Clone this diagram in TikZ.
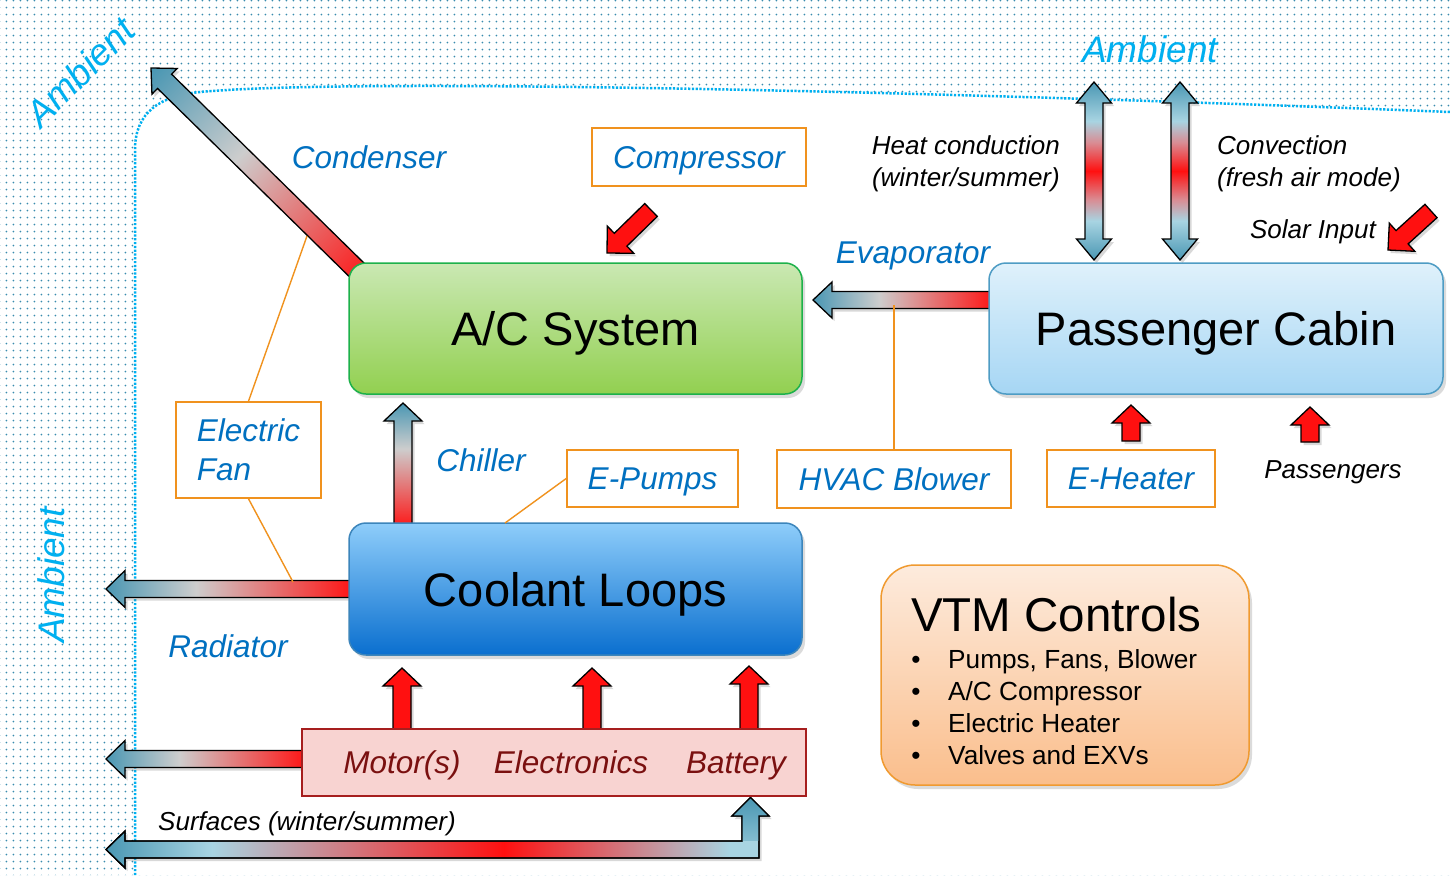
\documentclass[tikz,border=0pt]{standalone}
\usepackage{fontspec}
\setmainfont{Liberation Sans}
\usetikzlibrary{calc,patterns.meta,shadows}
\definecolor{amb}{HTML}{00B0F0}
\definecolor{dotc}{HTML}{3A8CAE}
\definecolor{lblue}{HTML}{0070C0}
\definecolor{orng}{HTML}{F0921E}
\definecolor{tealc}{HTML}{4A97B3}
\definecolor{grayc}{HTML}{CDCDCD}
\definecolor{hotred}{HTML}{FF1010}
\definecolor{lightb}{HTML}{A8D4E2}
\definecolor{pinkc}{HTML}{D98C93}
\definecolor{darkred}{HTML}{7A1010}
\definecolor{acg}{HTML}{1DB14B}
\definecolor{actop}{HTML}{CAE8B3}
\definecolor{acbot}{HTML}{92D050}
\definecolor{cabd}{HTML}{4E9CC4}
\definecolor{cabtop}{HTML}{DFF1FB}
\definecolor{cabbot}{HTML}{A6D6F4}
\definecolor{cold}{HTML}{3C85BB}
\definecolor{coltop}{HTML}{8ECDFA}
\definecolor{colbot}{HTML}{0A6FCF}
\definecolor{vtmd}{HTML}{F09A30}
\definecolor{vtmtop}{HTML}{FDEBDD}
\definecolor{vtmbot}{HTML}{FABE8C}
\definecolor{heatb}{HTML}{A61E1E}
\definecolor{heatf}{HTML}{F8D3D1}
\pgfdeclarehorizontalshading{heat}{100bp}{color(0bp)=(hotred); color(25bp)=(hotred); color(57bp)=(grayc); color(75bp)=(tealc); color(100bp)=(tealc)}
\pgfdeclarehorizontalshading{heatdiag}{100bp}{color(0bp)=(hotred); color(15bp)=(hotred); color(57bp)=(grayc); color(85bp)=(tealc); color(100bp)=(tealc)}
\pgfdeclareverticalshading{dbl}{100bp}{color(0bp)=(tealc); color(25bp)=(tealc); color(36bp)=(lightb); color(42bp)=(pinkc); color(50bp)=(hotred); color(58bp)=(pinkc); color(64bp)=(lightb); color(75bp)=(tealc); color(100bp)=(tealc)}
\pgfdeclarehorizontalshading{surf}{100bp}{color(0bp)=(tealc); color(25bp)=(tealc); color(33bp)=(lightb); color(55bp)=(hotred); color(72bp)=(lightb); color(100bp)=(lightb)}
\newcommand\lblfont{\fontsize{31.5}{39}\selectfont\itshape}
\newcommand\notefont{\fontsize{26}{32}\selectfont\itshape}
\newcommand\vtmfont{\fontsize{26.2}{32}\selectfont}
% [style]{base}{tip}{half shaft}{half head}{head length}
\newcommand\fatarrow[6][]{%
  \coordinate (fac) at ($(#3)!#6!(#2)$);
  \path[#1] ($(#2)!#4!90:(#3)$) -- ($(fac)!#4!90:(#3)$) -- ($(fac)!#5!90:(#3)$) -- (#3)
    -- ($(fac)!#5!-90:(#3)$) -- ($(fac)!#4!-90:(#3)$) -- ($(#2)!#4!-90:(#3)$) -- cycle;}
% [style]{tip1}{tip2}{half shaft}{half head}{head length}
\newcommand\dblarrow[6][]{%
  \coordinate (dac) at ($(#2)!#6!(#3)$);
  \coordinate (dad) at ($(#3)!#6!(#2)$);
  \path[#1] (#2) -- ($(dac)!#5!90:(#3)$) -- ($(dac)!#4!90:(#3)$) -- ($(dad)!#4!-90:(#2)$)
    -- ($(dad)!#5!-90:(#2)$) -- (#3) -- ($(dad)!#5!90:(#2)$) -- ($(dad)!#4!90:(#2)$)
    -- ($(dac)!#4!-90:(#3)$) -- ($(dac)!#5!-90:(#3)$) -- cycle;}
\newcommand\surfpath[1]{\path[#1] (surfT) -- (125,831) -- (125,841) -- (742,841) -- (742,816) -- (732,816)
  -- (surfU) -- (769,816) -- (759,816) -- (759,858) -- (125,858) -- (125,868) -- cycle;}
\begin{document}
\begin{tikzpicture}[x=1pt,y=-1pt,
  mainbox/.style={rounded corners=17pt, line width=1.5pt, inner sep=0pt, text height=34pt, text depth=0pt,
    font=\fontsize{47}{56}\selectfont, drop shadow={opacity=0.28, shadow xshift=3pt, shadow yshift=-4pt}},
  lblframe/.style={draw=orng, fill=white, line width=1.6pt, inner sep=0pt, text=lblue, font=\lblfont},
  lblbox/.style={lblframe, text height=22.5pt, text depth=0pt},
  lbl/.style={text=lblue, font=\lblfont, inner sep=0pt, anchor=base},
  note/.style={font=\notefont, inner sep=0pt},
  heattxt/.style={text=darkred, font=\lblfont, inner sep=0pt, anchor=base},
  ambl/.style={text=amb, font=\fontsize{37}{44}\selectfont\itshape, inner sep=0pt, text height=26.5pt, text depth=0pt},
  fat/.style={draw=black, line width=1.3pt, line join=miter,
    drop shadow={opacity=0.3, shadow xshift=2.5pt, shadow yshift=-3pt}},
  redfat/.style={fat, fill=hotred},
  heatfat/.style={fat, shade, shading=heat, shading angle=#1},
  orline/.style={draw=orng, line width=1.4pt},
  vtmline/.style={font=\vtmfont, inner sep=0pt, anchor=base west},
  bullet/.style={font=\vtmfont, inner sep=0pt, anchor=base}
]
\useasboundingbox (0,0) rectangle (1450,875);
\fill[white] (0,0) rectangle (1450,875);
% ambient region
\fill[pattern={Dots[angle=0,distance=7.4pt,radius=1.05pt]}, pattern color=dotc, even odd rule]
  (0,0) rectangle (1450,875)
  (135,875) -- (135,150) .. controls (135,112) and (160,96) .. (200,92)
  .. controls (350,78) and (900,90) .. (1450,112) -- (1450,875) -- cycle;
\draw[amb, line width=2.5pt, dash pattern=on 2.2pt off 1.6pt]
  (135,875) -- (135,150) .. controls (135,112) and (160,96) .. (200,92)
  .. controls (350,78) and (900,90) .. (1450,112);
\node[ambl] (amb1) at (1150,49) {Ambient};
\node[ambl, rotate=45] (amb2) at (80,72) {Ambient};
\node[ambl, rotate=90] (amb3) at (51,575) {Ambient};

% arrow end points
\coordinate (condB) at (366,279); \coordinate (condT) at (151,68);
\coordinate (compB) at (651,210); \coordinate (compT) at (607,253);
\coordinate (solB) at (1431,211); \coordinate (solT) at (1388,250);
\coordinate (evapB) at (996,300); \coordinate (evapT) at (813,300);
\coordinate (chilB) at (403,530); \coordinate (chilT) at (403,403);
\coordinate (radB) at (356,589); \coordinate (radT) at (106,589);
\coordinate (motB) at (309,759); \coordinate (motT) at (106,759);
\coordinate (u1B) at (402,733); \coordinate (u1T) at (402,668);
\coordinate (u2B) at (592,733); \coordinate (u2T) at (592,668);
\coordinate (u3B) at (749,733); \coordinate (u3T) at (749,666);
\coordinate (ehB) at (1131,441); \coordinate (ehT) at (1131,405);
\coordinate (paB) at (1310,442); \coordinate (paT) at (1310,407);
\coordinate (hc1) at (1094,82); \coordinate (hc2) at (1094,260);
\coordinate (cv1) at (1180,82); \coordinate (cv2) at (1180,260);
\coordinate (surfT) at (106,849.5); \coordinate (surfU) at (750.5,797.5);

% fat arrows
\fatarrow[fat, shade, shading=heatdiag, shading angle=135.5]{condB}{condT}{10pt}{18pt}{19pt}
\fatarrow[redfat]{compB}{compT}{9pt}{19pt}{19pt}
\fatarrow[redfat]{solB}{solT}{9pt}{19pt}{19pt}
\fatarrow[heatfat=180]{evapB}{evapT}{8.5pt}{18pt}{19pt}
\fatarrow[heatfat=90]{chilB}{chilT}{9pt}{19pt}{18pt}
\fatarrow[heatfat=180]{radB}{radT}{8.5pt}{18.5pt}{19pt}
\fatarrow[heatfat=180]{motB}{motT}{8.5pt}{18.5pt}{19pt}
\fatarrow[redfat]{u1B}{u1T}{9pt}{19pt}{18pt}
\fatarrow[redfat]{u2B}{u2T}{9pt}{19pt}{18pt}
\fatarrow[redfat]{u3B}{u3T}{9pt}{19pt}{18pt}
\fatarrow[redfat]{ehB}{ehT}{9pt}{19pt}{18pt}
\fatarrow[redfat]{paB}{paT}{9pt}{19pt}{18pt}
\dblarrow[fat, shade, shading=dbl]{hc1}{hc2}{9pt}{17.5pt}{21pt}
\dblarrow[fat, shade, shading=dbl]{cv1}{cv2}{9pt}{17.5pt}{21pt}
\surfpath{fat, shade, shading=surf}
\begin{scope}
  \clip (725,790) rectangle (775,840.4);
  \surfpath{top color=tealc, bottom color=lightb}
\end{scope}
\surfpath{draw=black, line width=1.3pt, line join=miter}

% main boxes
\node[mainbox, draw=acg, top color=actop, bottom color=acbot, minimum width=453pt, minimum height=131pt] (ac) at (575.5,328.5) {A/C System};
\node[mainbox, draw=cabd, top color=cabtop, bottom color=cabbot, minimum width=454pt, minimum height=131pt] (cabin) at (1216,328.5) {Passenger Cabin};
\node[mainbox, draw=cold, top color=coltop, bottom color=colbot, minimum width=453pt, minimum height=132pt] (cool) at (575.5,589) {Coolant Loops};
\node[mainbox, rounded corners=34pt, draw=vtmd, top color=vtmtop, bottom color=vtmbot, minimum width=368pt, minimum height=220pt] (vtm) at (1065,675) {};
\node[draw=heatb, fill=heatf, line width=1.6pt, minimum width=504pt, minimum height=67pt, inner sep=0pt] (heat) at (554,762.5) {};

% heat source texts
\node[heattxt] (motor) at (402,773) {Motor(s)};
\node[heattxt] (elec) at (571,773) {Electronics};
\node[heattxt] (batt) at (736,773) {Battery};

% VTM texts
\node[inner sep=0pt, anchor=base west, font=\fontsize{47.5}{56}\selectfont] (vtmt) at (911,631) {VTM Controls};
\node[bullet] (b1) at (916,668.5) {•}; \node[vtmline] (i1) at (948,668.5) {Pumps, Fans, Blower};
\node[bullet] (b2) at (916,700.5) {•}; \node[vtmline] (i2) at (948,700.5) {A/C Compressor};
\node[bullet] (b3) at (916,732.5) {•}; \node[vtmline] (i3) at (948,732.5) {Electric Heater};
\node[bullet] (b4) at (916,764.5) {•}; \node[vtmline] (i4) at (948,764.5) {Valves and EXVs};

% component label boxes
\node[lblbox, minimum width=214pt, minimum height=58pt] (comp) at (699,157) {Compressor};
\node[lblframe, minimum width=145pt, minimum height=96pt, align=left] (fan) at (248.5,450) {Electric\\Fan};
\node[lblbox, minimum width=171pt, minimum height=57pt] (epumps) at (652.5,478.5) {E-Pumps};
\node[lblbox, minimum width=234pt, minimum height=58pt] (hvac) at (894,479) {HVAC Blower};
\node[lblbox, minimum width=168pt, minimum height=57pt] (eheat) at (1131,478.5) {E-Heater};

% orange leader lines
\coordinate (condpt) at (307,236);
\coordinate (radpt) at (293,582);
\coordinate (coolpt) at (505,523);
\coordinate (evappt) at (894,305);
\draw[orline] (fan.north) -- (condpt);
\draw[orline] (fan.south) -- (radpt);
\draw[orline] (epumps.west) -- (coolpt);
\draw[orline] (hvac.north) -- (evappt);

% blue labels
\node[lbl] (condl) at (369,168) {Condenser};
\node[lbl] (evapl) at (913,263) {Evaporator};
\node[lbl] (chill) at (481,471) {Chiller};
\node[lbl] (radl) at (228,657) {Radiator};

% black notes
\node[note, anchor=base east] (hcn1) at (1060,154) {Heat conduction};
\node[note, anchor=base east] (hcn2) at (1060,186) {(winter/summer)};
\node[note, anchor=base west] (cvn1) at (1217,154) {Convection};
\node[note, anchor=base west] (cvn2) at (1217,186) {(fresh air mode)};
\node[note, anchor=base east] (soln) at (1376,238) {Solar Input};
\node[note, anchor=base] (pasn) at (1333,478) {Passengers};
\node[note, anchor=base west] (surfn) at (158,830) {Surfaces (winter/summer)};
\end{tikzpicture}
\end{document}
